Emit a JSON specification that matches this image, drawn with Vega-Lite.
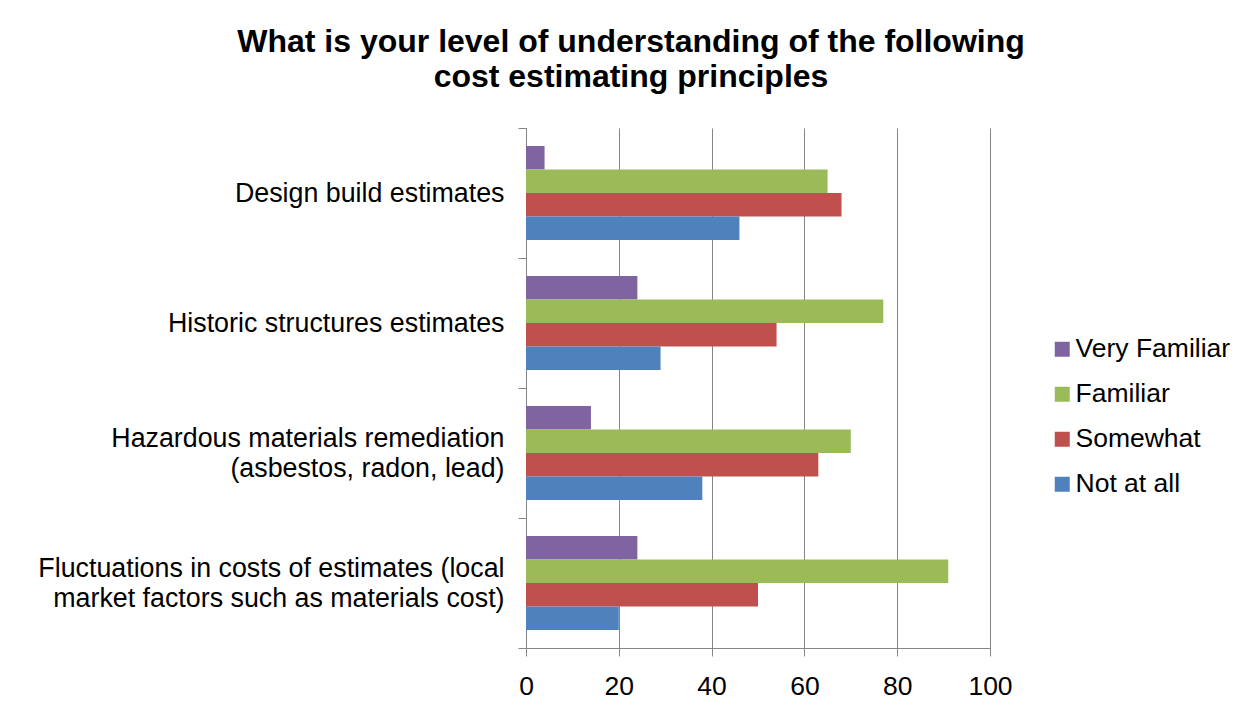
{
  "$schema": "https://vega.github.io/schema/vega-lite/v6.json",
  "width": 464,
  "height": 520,
  "autosize": {"type": "none"},
  "padding": {"left": 526, "top": 128, "right": 264, "bottom": 79},
  "background": "white",
  "title": {
    "text": ["What is your level of understanding of the following", "cost estimating principles"],
    "font": "Liberation Sans",
    "fontSize": 32,
    "fontWeight": "bold",
    "color": "#000000",
    "anchor": "middle",
    "dx": -127,
    "lineHeight": 35,
    "offset": 21
  },
  "data": {
    "values": [
      {"category": "Design build estimates", "series": "Very Familiar", "value": 4},
      {"category": "Design build estimates", "series": "Familiar", "value": 65},
      {"category": "Design build estimates", "series": "Somewhat", "value": 68},
      {"category": "Design build estimates", "series": "Not at all", "value": 46},
      {"category": "Historic structures estimates", "series": "Very Familiar", "value": 24},
      {"category": "Historic structures estimates", "series": "Familiar", "value": 77},
      {"category": "Historic structures estimates", "series": "Somewhat", "value": 54},
      {"category": "Historic structures estimates", "series": "Not at all", "value": 29},
      {"category": "Hazardous materials remediation|(asbestos, radon, lead)", "series": "Very Familiar", "value": 14},
      {"category": "Hazardous materials remediation|(asbestos, radon, lead)", "series": "Familiar", "value": 70},
      {"category": "Hazardous materials remediation|(asbestos, radon, lead)", "series": "Somewhat", "value": 63},
      {"category": "Hazardous materials remediation|(asbestos, radon, lead)", "series": "Not at all", "value": 38},
      {"category": "Fluctuations in costs of estimates (local|market factors such as materials cost)", "series": "Very Familiar", "value": 24},
      {"category": "Fluctuations in costs of estimates (local|market factors such as materials cost)", "series": "Familiar", "value": 91},
      {"category": "Fluctuations in costs of estimates (local|market factors such as materials cost)", "series": "Somewhat", "value": 50},
      {"category": "Fluctuations in costs of estimates (local|market factors such as materials cost)", "series": "Not at all", "value": 20}
    ]
  },
  "mark": {"type": "bar", "strokeWidth": 0},
  "encoding": {
    "y": {
      "field": "category",
      "type": "nominal",
      "sort": ["Design build estimates", "Historic structures estimates", "Hazardous materials remediation|(asbestos, radon, lead)", "Fluctuations in costs of estimates (local|market factors such as materials cost)"],
      "scale": {"paddingInner": 0, "paddingOuter": 0},
      "axis": {
        "title": null,
        "labelExpr": "datum.value ? split(datum.value, '|') : ''",
        "labelFont": "Liberation Sans",
        "labelFontSize": 26.8,
        "labelColor": "#000000",
        "labelLineHeight": 30,
        "labelPadding": 14,
        "labelOffset": {"condition": {"test": "datum.value && indexof(datum.value, '|') >= 0", "value": -15}, "value": 0},
        "tickBand": "extent",
        "tickSize": 8,
        "tickColor": "#868686",
        "domainColor": "#868686",
        "grid": false,
        "labelLimit": 600
      }
    },
    "yOffset": {
      "field": "series",
      "type": "nominal",
      "sort": ["Very Familiar", "Familiar", "Somewhat", "Not at all"],
      "scale": {"paddingInner": 0, "paddingOuter": 0.766}
    },
    "x": {
      "field": "value",
      "type": "quantitative",
      "scale": {"domain": [0, 100], "nice": false},
      "axis": {
        "title": null,
        "values": [0, 20, 40, 60, 80, 100],
        "labelFont": "Liberation Sans",
        "labelFontSize": 26.5,
        "labelColor": "#000000",
        "labelPadding": 17,
        "labelFlush": false,
        "tickSize": 8,
        "tickColor": "#868686",
        "domainColor": "#868686",
        "grid": true,
        "gridColor": "#868686",
        "gridWidth": 1
      }
    },
    "color": {
      "field": "series",
      "type": "nominal",
      "sort": ["Very Familiar", "Familiar", "Somewhat", "Not at all"],
      "scale": {
        "domain": ["Very Familiar", "Familiar", "Somewhat", "Not at all"],
        "range": ["#8064A2", "#9BBB59", "#C0504D", "#4F81BD"]
      },
      "legend": {
        "title": null,
        "orient": "none",
        "legendX": 523,
        "legendY": 208,
        "symbolType": "square",
        "symbolSize": 225,
        "symbolStrokeWidth": 0,
        "labelFont": "Liberation Sans",
        "labelFontSize": 26.5,
        "labelColor": "#000000",
        "labelOffset": 0,
        "rowPadding": 18
      }
    }
  },
  "config": {
    "view": {"stroke": null},
    "axis": {"domainWidth": 1, "tickWidth": 1}
  }
}
